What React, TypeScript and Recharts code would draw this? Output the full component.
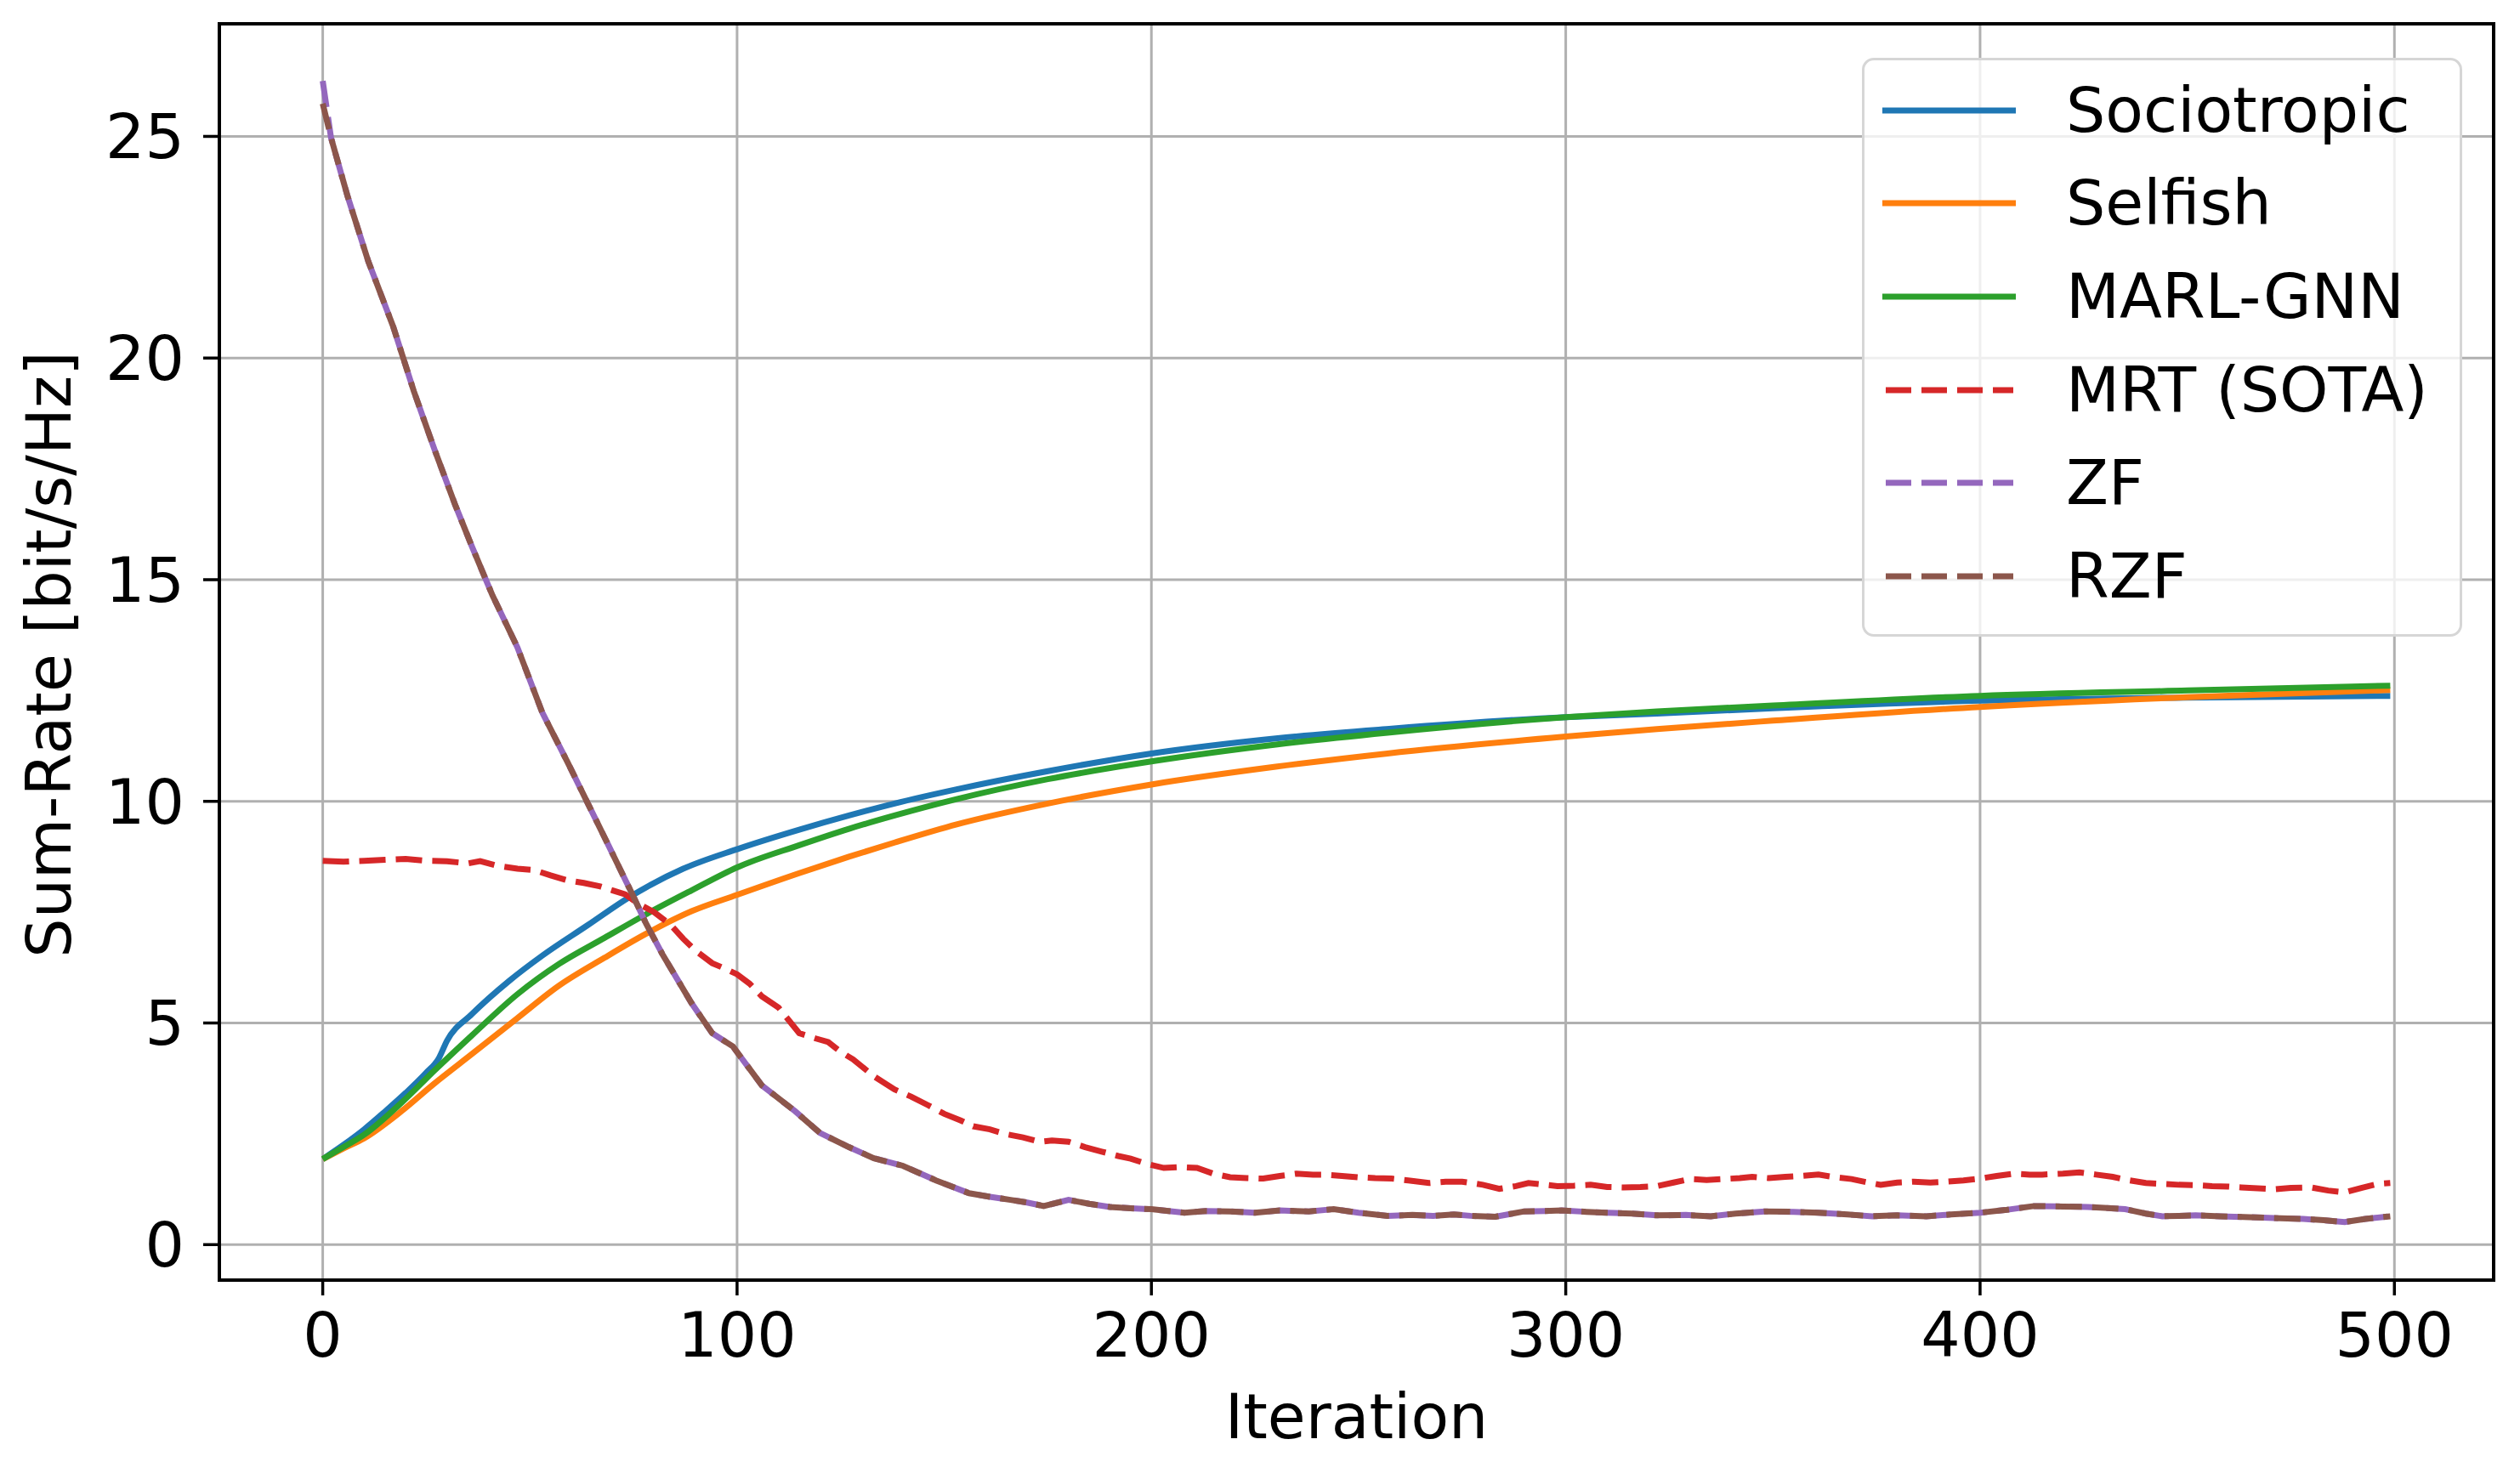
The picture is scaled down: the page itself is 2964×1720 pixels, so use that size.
import React from 'react';
import { LineChart, Line, XAxis, YAxis, CartesianGrid, Legend, ReferenceArea } from 'recharts';

const FONT = '"DejaVu Sans", "Liberation Sans", sans-serif';

const X_TICKS = [0, 100, 200, 300, 400, 500];
const Y_TICKS = [0, 5, 10, 15, 20, 25];
const X_DOMAIN = [-24.95, 523.95];
const Y_DOMAIN = [-0.8, 27.54];

const ITER_SOCIO = [0, 5, 10, 15, 20, 25, 28, 30, 36, 45, 53, 64, 74, 87, 100, 115, 127, 138, 153, 175, 200, 230, 258, 300, 322, 350, 400, 450, 499];
const SOCIO = [1.93, 2.25, 2.6, 3.0, 3.42, 3.88, 4.2, 4.6, 5.2, 5.95, 6.52, 7.21, 7.84, 8.48, 8.92, 9.36, 9.68, 9.95, 10.27, 10.68, 11.08, 11.42, 11.64, 11.9, 11.98, 12.1, 12.27, 12.34, 12.38];

const ITER_SELF = [0, 5, 10, 19, 27, 36, 47, 57, 68, 78, 89, 100, 115, 127, 138, 153, 175, 200, 230, 257, 300, 322, 350, 400, 450, 499];
const SELF = [1.93, 2.17, 2.4, 3.01, 3.64, 4.3, 5.11, 5.84, 6.47, 7.01, 7.52, 7.89, 8.38, 8.75, 9.07, 9.48, 9.95, 10.38, 10.78, 11.08, 11.46, 11.63, 11.82, 12.13, 12.35, 12.51];

const ITER_GNN = [0, 5, 10, 19, 27, 36, 47, 57, 68, 78, 89, 100, 115, 127, 138, 153, 175, 200, 230, 257, 300, 322, 350, 400, 450, 499];
const GNN = [1.93, 2.2, 2.48, 3.2, 3.93, 4.72, 5.65, 6.33, 6.92, 7.45, 7.99, 8.51, 9.01, 9.38, 9.68, 10.05, 10.5, 10.9, 11.28, 11.55, 11.9, 12.03, 12.16, 12.38, 12.5, 12.61];

const ITER_MRT = [0, 5, 10, 15, 20, 25, 30, 35, 38, 42, 47, 51, 55, 59, 63, 67, 70, 73, 76, 80, 84, 87, 90, 94, 97, 100, 103, 106, 110, 115, 119, 122, 125, 128, 133, 138, 142, 146, 150, 154, 157, 161, 165, 169, 173, 176, 180, 184, 188, 192, 195, 199, 203, 207, 211, 215, 219, 223, 227, 231, 235, 239, 242, 246, 250, 254, 258, 262, 267, 271, 275, 280, 284, 288, 291, 295, 298, 302, 306, 310, 314, 318, 322, 326, 330, 334, 338, 342, 345, 349, 353, 357, 361, 365, 369, 373, 376, 380, 384, 388, 392, 396, 400, 404, 408, 412, 415, 420, 424, 428, 432, 436, 440, 444, 448, 452, 456, 460, 463, 467, 471, 475, 480, 484, 488, 492, 496, 499];
const MRT = [8.66, 8.64, 8.66, 8.68, 8.7, 8.66, 8.65, 8.6, 8.65, 8.55, 8.48, 8.45, 8.33, 8.22, 8.16, 8.08, 7.99, 7.9, 7.7, 7.5, 7.21, 6.9, 6.63, 6.35, 6.23, 6.1, 5.89, 5.6, 5.35, 4.77, 4.65, 4.57, 4.35, 4.18, 3.8, 3.5, 3.34, 3.15, 2.95, 2.8, 2.67, 2.6, 2.49, 2.42, 2.32, 2.35, 2.32, 2.2, 2.1, 2.0, 1.94, 1.82, 1.73, 1.75, 1.73, 1.6, 1.52, 1.5, 1.49, 1.55, 1.6, 1.58, 1.58, 1.55, 1.52, 1.5, 1.49, 1.45, 1.39, 1.42, 1.42, 1.35, 1.26, 1.32, 1.39, 1.35, 1.32, 1.33, 1.35, 1.3, 1.29, 1.3, 1.32, 1.4, 1.48, 1.46, 1.48, 1.5, 1.53, 1.5, 1.53, 1.55, 1.58, 1.52, 1.48, 1.4, 1.35, 1.4, 1.42, 1.4, 1.42, 1.45, 1.49, 1.55, 1.6, 1.58, 1.58, 1.6, 1.63, 1.58, 1.53, 1.45, 1.39, 1.37, 1.35, 1.34, 1.32, 1.31, 1.29, 1.27, 1.25, 1.28, 1.29, 1.22, 1.18, 1.28, 1.37, 1.39];

const ITER_ZF = [0, 2, 6, 11, 17, 22, 27, 32, 36, 41, 47, 53, 59, 64, 69, 75, 78, 82, 89, 94, 99, 106, 114, 120, 127, 133, 140, 148, 156, 161, 166, 170, 174, 180, 185, 190, 195, 200, 208, 213, 219, 225, 231, 238, 244, 250, 257, 263, 268, 273, 277, 283, 290, 295, 299, 305, 310, 316, 322, 329, 335, 341, 348, 355, 361, 368, 374, 380, 387, 393, 400, 406, 413, 420, 426, 430, 435, 440, 444, 448, 452, 458, 465, 471, 478, 483, 488, 493, 499];
const ZF = [26.25, 24.97, 23.65, 22.18, 20.71, 19.25, 17.93, 16.68, 15.75, 14.64, 13.47, 12.0, 10.9, 9.95, 9.0, 7.85, 7.25, 6.55, 5.45, 4.77, 4.47, 3.59, 3.01, 2.52, 2.2, 1.95, 1.78, 1.45, 1.16, 1.08, 1.01, 0.95, 0.87, 1.01, 0.92, 0.85, 0.82, 0.8, 0.72, 0.76, 0.75, 0.72, 0.77, 0.75, 0.8, 0.72, 0.65, 0.67, 0.65, 0.68, 0.65, 0.63, 0.75, 0.76, 0.77, 0.74, 0.72, 0.7, 0.66, 0.67, 0.64, 0.7, 0.75, 0.74, 0.72, 0.68, 0.64, 0.66, 0.64, 0.68, 0.72, 0.78, 0.87, 0.86, 0.85, 0.83, 0.8, 0.7, 0.64, 0.65, 0.66, 0.64, 0.62, 0.6, 0.58, 0.55, 0.51, 0.58, 0.64];

const ITER_RZF = ITER_ZF;
const RZF = [25.74, 24.97, 23.65, 22.18, 20.71, 19.25, 17.93, 16.68, 15.75, 14.64, 13.47, 12.0, 10.9, 9.95, 9.0, 7.85, 7.25, 6.55, 5.45, 4.77, 4.47, 3.59, 3.01, 2.52, 2.2, 1.95, 1.78, 1.45, 1.16, 1.08, 1.01, 0.95, 0.87, 1.01, 0.92, 0.85, 0.82, 0.8, 0.72, 0.76, 0.75, 0.72, 0.77, 0.75, 0.8, 0.72, 0.65, 0.67, 0.65, 0.68, 0.65, 0.63, 0.75, 0.76, 0.77, 0.74, 0.72, 0.7, 0.66, 0.67, 0.64, 0.7, 0.75, 0.74, 0.72, 0.68, 0.64, 0.66, 0.64, 0.68, 0.72, 0.78, 0.87, 0.86, 0.85, 0.83, 0.8, 0.7, 0.64, 0.65, 0.66, 0.64, 0.62, 0.6, 0.58, 0.55, 0.51, 0.58, 0.64];

const toPoints = (xs: number[], ys: number[]) =>
  xs.slice(0, Math.min(xs.length, ys.length)).map((x, i) => ({ x, y: ys[i] }));

const SERIES = [
  { name: 'Sociotropic', color: '#1f77b4', dashed: false, smooth: true, data: toPoints(ITER_SOCIO, SOCIO) },
  { name: 'Selfish', color: '#ff7f0e', dashed: false, smooth: true, data: toPoints(ITER_SELF, SELF) },
  { name: 'MARL-GNN', color: '#2ca02c', dashed: false, smooth: true, data: toPoints(ITER_GNN, GNN) },
  { name: 'MRT (SOTA)', color: '#d62728', dashed: true, smooth: false, data: toPoints(ITER_MRT, MRT) },
  { name: 'ZF', color: '#9467bd', dashed: true, smooth: false, data: toPoints(ITER_ZF, ZF) },
  { name: 'RZF', color: '#8c564b', dashed: true, smooth: false, data: toPoints(ITER_RZF, RZF) },
];

const DASH = '31 12';
const LINE_W = 7;
const FS = 73;

const LegendBox = () => (
  <div
    style={{
      position: 'relative',
      width: 706,
      height: 681,
      boxSizing: 'border-box',
      border: '3px solid #d6d6d6',
      borderRadius: 14,
      background: 'rgba(255,255,255,0.8)',
      fontFamily: FONT,
    }}
  >
    {SERIES.map((s, i) => (
      <div key={s.name} style={{ position: 'absolute', left: 0, top: 58.8 + i * 109.6 - 50, height: 100, width: 700 }}>
        <svg width={200} height={100} style={{ position: 'absolute', left: 21, top: 0 }}>
          <line
            x1={s.dashed ? 4 : 0}
            x2={s.dashed ? 154 : 157}
            y1={50}
            y2={50}
            stroke={s.color}
            strokeWidth={LINE_W}
            strokeDasharray={s.dashed ? '30 12' : undefined}
          />
        </svg>
        <span
          style={{
            position: 'absolute',
            left: 237,
            top: 0,
            height: 100,
            lineHeight: '100px',
            fontSize: FS,
            color: '#000',
            whiteSpace: 'nowrap',
          }}
        >
          {s.name}
        </span>
      </div>
    ))}
  </div>
);

export default function App() {
  return (
    <div style={{ position: 'absolute', left: 0, top: 0, width: 2964, height: 1720, background: '#ffffff' }}>
      <LineChart width={2964} height={1720} margin={{ top: 28, right: 31, bottom: 0, left: 0 }}>
        <CartesianGrid stroke="#b0b0b0" strokeWidth={3} />
        <XAxis
          type="number"
          dataKey="x"
          domain={X_DOMAIN}
          ticks={X_TICKS}
          allowDataOverflow
          interval={0}
          height={214}
          tickSize={18}
          tickMargin={20}
          axisLine={{ stroke: '#000', strokeWidth: 4 }}
          tickLine={{ stroke: '#000', strokeWidth: 3.5 }}
          tick={{ fontSize: FS, fill: '#000', fontFamily: FONT }}
          label={{
            content: (props: any) => {
              const vb = props.viewBox || { x: 258, y: 1506, width: 2675, height: 214 };
              return (
                <text x={vb.x + vb.width / 2} y={vb.y + 186} textAnchor="middle" fontSize={FS} fontFamily={FONT} fill="#000">
                  Iteration
                </text>
              );
            },
          }}
        />
        <YAxis
          type="number"
          domain={Y_DOMAIN}
          ticks={Y_TICKS}
          allowDataOverflow
          interval={0}
          width={258}
          tickSize={19}
          tickMargin={22}
          axisLine={{ stroke: '#000', strokeWidth: 4 }}
          tickLine={{ stroke: '#000', strokeWidth: 3.5 }}
          tick={{ fontSize: FS, fill: '#000', fontFamily: FONT }}
          label={{
            content: (props: any) => {
              const vb = props.viewBox || { x: 0, y: 28, width: 258, height: 1478 };
              const cy = vb.y + vb.height / 2 + 3;
              return (
                <text x={83} y={cy} transform={`rotate(-90 83 ${cy})`} textAnchor="middle" fontSize={FS} fontFamily={FONT} fill="#000">
                  Sum-Rate [bit/s/Hz]
                </text>
              );
            },
          }}
        />
        {SERIES.map((s) => (
          <Line
            key={s.name}
            data={s.data}
            dataKey="y"
            name={s.name}
            type={s.smooth ? 'monotone' : 'linear'}
            stroke={s.color}
            strokeWidth={LINE_W}
            strokeDasharray={s.dashed ? DASH : undefined}
            dot={false}
            activeDot={false}
            isAnimationActive={false}
          />
        ))}
        <ReferenceArea
          x1={X_DOMAIN[0]}
          x2={X_DOMAIN[1]}
          y1={Y_DOMAIN[0]}
          y2={Y_DOMAIN[1]}
          fill="none"
          stroke="#000"
          strokeWidth={4}
          ifOverflow="visible"
        />
        <Legend
          layout="horizontal"
          verticalAlign="middle"
          align="center"
          wrapperStyle={{ left: 2190, top: 68, width: 706, height: 681 }}
          content={() => <LegendBox />}
        />
      </LineChart>
    </div>
  );
}
